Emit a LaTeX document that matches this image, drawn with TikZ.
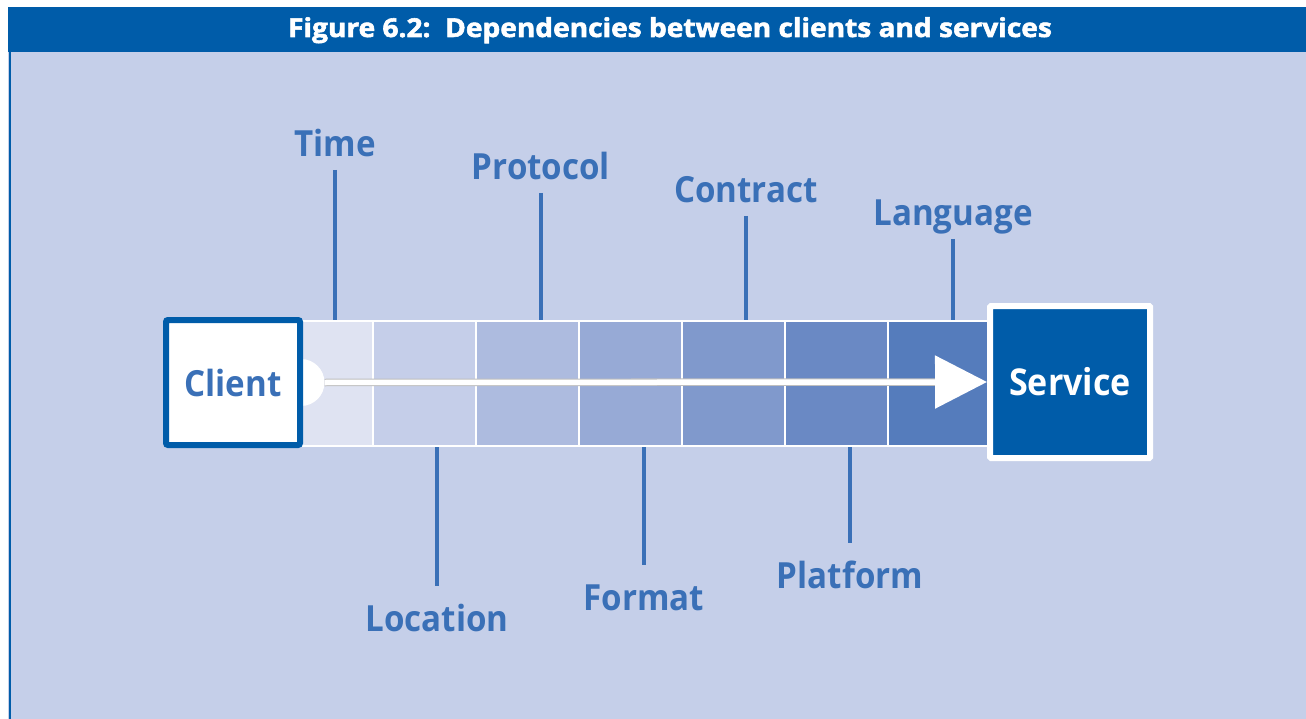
\documentclass[tikz,border=0pt]{standalone}
\usepackage{fontspec}
\setmainfont{Open Sans}
\newfontfamily\headfont[FakeStretch=1.08, BoldFeatures={FakeBold=2.2}]{Open Sans}
\newfontfamily\lblfont[FakeStretch=0.92]{Open Sans}
\usetikzlibrary{positioning,arrows.meta,calc}

\definecolor{hdrblue}{HTML}{005CA9}
\definecolor{panel}{HTML}{C5CFE9}
\definecolor{txtblue}{HTML}{3A70B7}
\definecolor{cA}{HTML}{DFE3F2}
\definecolor{cB}{HTML}{C5CEE9}
\definecolor{cC}{HTML}{ADBBDF}
\definecolor{cD}{HTML}{97AAD6}
\definecolor{cE}{HTML}{8099CC}
\definecolor{cF}{HTML}{6A89C4}
\definecolor{cG}{HTML}{557CBC}

\tikzset{
  cell/.style={draw=white, line width=2pt, minimum height=125pt, inner sep=0pt, anchor=north west},
  lbl/.style={text=txtblue, font=\lblfont\fontsize{36}{40}\selectfont\bfseries, inner sep=0pt, anchor=base},
  tick/.style={draw=txtblue, line width=4pt},
  client/.style={draw=hdrblue, fill=white, line width=6pt, rounded corners=2pt,
    minimum width=134pt, minimum height=125pt, text=txtblue,
    font=\lblfont\fontsize{36}{40}\selectfont\bfseries},
  service/.style={draw=white, fill=hdrblue, line width=6pt, rounded corners=1pt,
    minimum width=160pt, minimum height=152pt, text=white,
    font=\lblfont\fontsize{37}{40}\selectfont\bfseries},
}

\begin{document}
\begin{tikzpicture}[x=1pt, y=-1pt]
\useasboundingbox (0,0) rectangle (1306,719);
%
    % panel and heading bar
    \fill[panel] (8,52) rectangle (1306,719);
    \fill[hdrblue] (8,7) rectangle (1306,52);
    \fill[hdrblue] (8.5,52) rectangle (11,719);
    \node[text=white, font=\headfont\fontsize{26}{28}\selectfont\bfseries, anchor=base] (title)
      at (670,37) {Figure 6.2:\ \ Dependencies between clients and services};
%
    % the band of dependency cells
    \foreach \i/\xa/\xb/\shade in {1/301/372/cA, 2/372/475/cB, 3/475/578/cC,
        4/578/681/cD, 5/681/784/cE, 6/784/887/cF, 7/887/990/cG}
      \node[cell, fill=\shade, minimum width={\xb-\xa}] (c\i) at (\xa,320) {};
%
    \node[circle, fill=white, minimum size=47pt, inner sep=0pt] (knob) at (301,382.5) {};
    \node[client] (client) at (233,382.5) {Client};
    \node[service] (service) at (1070,382) {Service};
%
    % arrow from client to service
    \coordinate (abase) at ($(service.west)+(-52,0)$);
    \draw[line width=7.5pt, black!25] (knob.east) -- (abase);
    \draw[line width=5.5pt, white, -{Triangle[length=52pt,width=52pt]}] (knob.east) -- (service.west);
%
    % labels above the band
    \node[lbl] (time)     at (335,157) {Time};
    \node[lbl] (protocol) at (541,180) {Protocol};
    \node[lbl] (contract) at (746,203) {Contract};
    \node[lbl] (language) at (953,226) {Language};
    \foreach \n in {time, protocol, contract, language}
      \draw[tick] ($(\n.base)+(0,13)$) -- (\n.base |- c1.north);
%
    % labels below the band
    \node[lbl] (location) at (437,631) {Location};
    \node[lbl] (format)   at (644,610) {Format};
    \node[lbl] (platform) at (850,588) {Platform};
    \foreach \n in {location, format, platform}
      \draw[tick] (\n.base |- c1.south) -- ($(\n.base)+(0,-45)$);
%
\end{tikzpicture}
\end{document}
